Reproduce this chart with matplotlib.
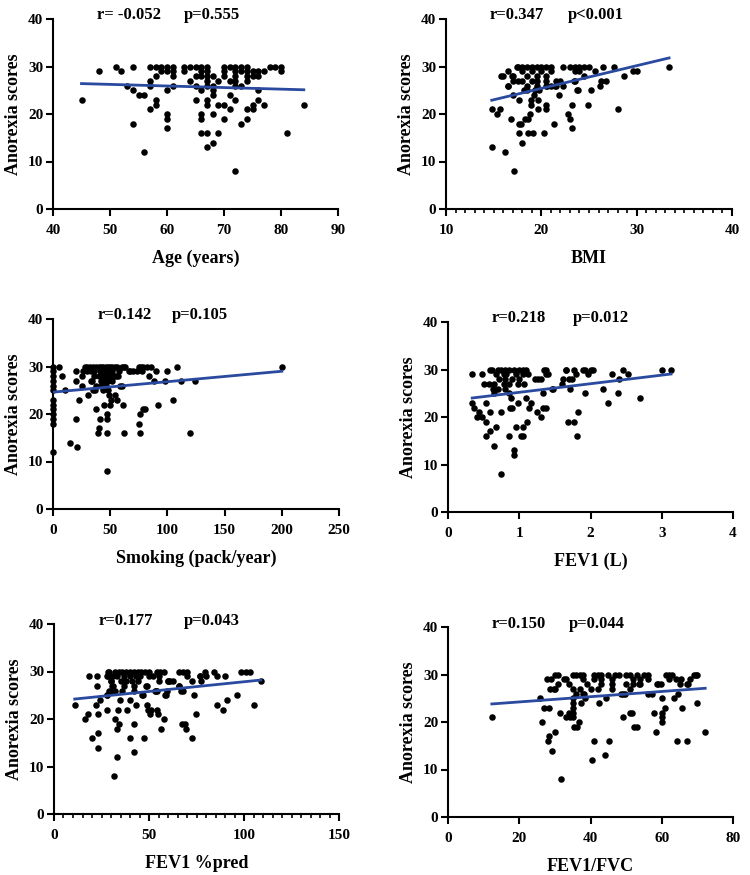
import matplotlib
matplotlib.use("Agg")
import matplotlib.pyplot as plt
from matplotlib.ticker import MultipleLocator

# ---------------- data ----------------
age_x = [45, 48, 51, 52, 53, 54, 54, 54, 55, 56, 56,
         57, 57, 57, 57, 58, 58, 58, 58, 59, 59,
         60, 60, 60, 60, 60, 60, 61, 61, 61, 61, 63, 63, 64, 64,
         65, 65, 65, 65, 66, 66, 66, 66, 66, 66, 66,
         67, 67, 67, 67, 67, 67, 67, 67, 67,
         68, 68, 68, 68, 68, 68, 69, 69, 69, 70, 70, 70, 70, 70,
         71, 71, 71, 71, 72, 72, 72, 72, 72, 72, 72,
         73, 73, 73, 73, 74, 74, 74, 74, 74, 74, 75, 75, 75, 75,
         76, 76, 76, 76, 77, 77, 78, 79, 80, 80, 81, 84]
age_y = [23, 29, 30, 29, 26, 30, 25, 18, 24, 24, 12,
         30, 27, 26, 21, 30, 28, 23, 22, 30, 29,
         30, 29, 25, 20, 19, 17, 30, 29, 28, 26, 30, 29, 30, 27,
         30, 28, 26, 23, 30, 29, 28, 25, 20, 19, 16,
         30, 29, 28, 27, 26, 23, 22, 16, 13,
         28, 26, 25, 24, 20, 14, 27, 22, 16, 30, 29, 28, 22, 19,
         30, 27, 24, 21, 30, 29, 28, 27, 26, 23, 8,
         30, 29, 26, 18, 30, 29, 28, 27, 21, 19, 29, 28, 22, 21,
         29, 28, 25, 23, 29, 22, 30, 30, 30, 29, 16, 22]

bmi_x = [14.8, 14.8, 15.4, 15.7, 15.8, 16.2, 16.5, 16.5, 16.8, 16.9, 17.0, 17.1,
         17.4, 17.7, 17.7, 17.7, 17.9, 18.0, 18.3, 18.5, 18.6, 18.6, 18.8, 18.9, 18.9,
         19.1, 19.2, 19.3, 19.6, 19.7, 19.8, 20.3, 20.5, 20.5, 20.6, 21.3, 21.4, 21.9,
         22.0, 22.3, 22.3, 22.8, 23.0, 23.2, 23.2, 23.4, 23.7, 24.9, 25.2, 25.6, 26.2,
         26.3, 26.5, 26.8, 27.6, 28.0, 28.7, 29.6, 30.0, 33.4,
         17.5, 18.0, 18.5, 19.0, 19.5, 20.0, 20.5, 21.0, 23.0, 23.5, 24.0, 24.5, 25.0,
         18.0, 19.0, 20.0, 21.0, 23.5, 24.0,
         16.0, 17.0, 18.5, 19.5, 20.5, 24.5,
         17.0, 17.5, 18.0, 19.0, 19.5, 20.5, 21.5, 23.5,
         16.5, 18.5, 19.5, 20.5, 21.0, 21.5,
         18.2, 19.3, 23.8]
bmi_y = [21, 13, 20, 21, 28, 12, 29, 26, 19, 28, 24, 8,
         30, 18, 16, 23, 18, 14, 19, 25, 16, 19, 20, 22, 23,
         16, 24, 25, 21, 23, 25, 16, 22, 21, 26, 18, 26, 24,
         27, 26, 30, 20, 19, 22, 17, 27, 25, 22, 25, 29, 26,
         27, 30, 27, 30, 21, 28, 29, 29, 30,
         30, 30, 30, 30, 30, 30, 30, 30, 30, 30, 30, 30, 30,
         29, 29, 29, 29, 29, 29,
         28, 28, 28, 28, 28, 28,
         27, 27, 27, 27, 27, 27, 27, 27,
         26, 26, 26, 26, 26, 26,
         25, 25, 25]

smk_x = [0] * 13 + [5, 8, 10.5, 15, 20, 20, 20, 21, 23, 25, 25, 26, 30, 31, 34, 37, 38,
         39, 40, 41, 45, 47, 47, 47, 47, 49, 50, 51, 54, 56, 59, 61, 62, 63, 67, 75,
         76, 76, 79, 80, 82, 86, 84, 88, 90, 92, 98, 100, 105, 108, 112, 120, 124, 200,
         28, 32, 35, 38, 40, 42, 44, 46, 48, 50, 52, 54, 56, 60, 62, 75, 77, 79,
         30, 33, 36, 41, 43, 45, 48, 52, 58, 66, 70, 73, 78,
         36, 40, 44, 47, 50, 53, 55, 57,
         33, 42, 45, 48, 52,
         38, 42, 46, 60,
         35, 44, 48]
smk_y = [30, 29, 28, 27, 26, 25, 23, 22, 21, 20, 19, 18, 12,
         30, 28, 25, 14, 29, 27, 19, 13, 23, 28, 26, 29, 30, 24, 27, 25, 21,
         16, 17, 19, 22, 20, 19, 16, 8, 24, 22, 23, 24, 23, 26, 22, 16, 30, 29, 18,
         16, 20, 21, 21, 30, 30, 28, 27, 29, 22, 27, 29, 23, 30, 27, 16, 27, 30,
         30, 30, 30, 30, 30, 30, 30, 30, 30, 30, 30, 30, 30, 30, 30, 30, 30, 30,
         29, 29, 29, 29, 29, 29, 29, 29, 29, 29, 29, 29, 29,
         28, 28, 28, 28, 28, 28, 28, 28,
         27, 27, 27, 27, 27,
         26, 26, 26, 26,
         25, 25, 25]

fev_x = [0.34, 0.34, 0.37, 0.41, 0.44, 0.48, 0.48, 0.50, 0.54, 0.54, 0.54, 0.57, 0.59,
         0.59, 0.59, 0.64, 0.64, 0.67, 0.74, 0.75, 0.85, 0.87, 0.89, 0.90, 0.92, 0.92,
         0.95, 0.98, 1.02, 1.05, 1.05, 1.09, 1.11, 1.13, 1.16, 1.25, 1.27, 1.30, 1.34,
         1.34, 1.37, 1.38, 1.40, 1.46, 1.48, 1.60, 1.65, 1.68, 1.71, 1.74, 1.77, 1.77,
         1.81, 1.83, 1.80, 1.90, 1.92, 1.97, 2.04, 2.18, 2.25, 2.30, 2.39, 2.40, 2.46,
         2.52, 2.69, 3.00, 3.13,
         0.62, 0.70, 0.75, 0.80, 0.85, 0.92, 1.00, 1.05, 1.10, 1.35, 1.65, 1.92, 2.00,
         0.68, 0.78, 0.82, 0.95, 1.05, 1.12, 1.38,
         0.72, 0.80, 0.90, 1.00, 1.22, 1.30, 1.62, 1.70,
         0.65, 0.78, 0.85, 0.98, 1.07,
         0.63, 0.70, 0.80,
         0.85]
fev_y = [29, 23, 22, 20, 21, 20, 29, 27, 23, 19, 16, 27, 30,
         21, 17, 14, 25, 18, 21, 8, 16, 22, 24, 22, 13, 12,
         18, 23, 16, 16, 18, 24, 19, 22, 23, 21, 28, 20, 25,
         22, 22, 30, 29, 26, 26, 27, 30, 19, 26, 28, 30, 19,
         16, 21, 29, 30, 25, 29, 30, 26, 23, 29, 25, 28, 30,
         29, 24, 30, 30,
         30, 30, 30, 30, 30, 30, 30, 30, 30, 30, 30, 30, 30,
         29, 29, 29, 29, 29, 29, 29,
         28, 28, 28, 28, 28, 28, 28, 28,
         27, 27, 27, 27, 27,
         26, 26, 26,
         25]

pred_x = [10.9, 16.5, 17.9, 18.4, 20.2, 21.9, 22.6, 22.8, 23.0, 23.3, 23.3, 24.4,
          27.9, 27.9, 28.4, 28.4, 29.0, 30.0, 30.7, 31.9, 31.6, 33.2, 33.7, 34.0, 33.3,
          34.9, 38.6, 39.8, 40.2, 42.1, 42.1, 43.0, 46.3, 47.2, 48.6, 49.1, 49.5, 50.4,
          51.2, 53.0, 53.9, 54.2, 54.7, 56.1, 57.9, 58.6, 59.6, 60.0, 61.2, 62.6, 65.8,
          67.0, 67.5, 69.1, 69.6, 72.6, 72.6, 73.9, 74.9, 76.7, 77.5, 79.3, 80.2, 84.2,
          86.0, 86.0, 88.9, 90.0, 91.2, 96.5, 98.6, 101.2, 103.0, 105.0, 108.8,
          29, 32, 34, 36, 38, 40, 42, 44, 46, 48, 50, 54, 56, 58, 66, 68, 70,
          28, 31, 33, 37, 40, 43, 45, 50, 52, 55, 70, 77,
          30, 35, 38, 41, 44, 55, 60,
          31, 37, 42, 49, 66,
          30, 32, 36, 42, 54, 68,
          28, 47, 59]
pred_y = [23, 20, 21, 29, 16, 23, 27, 29, 21, 17, 14, 24,
          22, 25, 30, 29, 26, 28, 27, 20, 8, 18, 22, 19, 12,
          24, 22, 16, 24, 19, 13, 23, 25, 16, 27, 23, 22, 21,
          22, 26, 26, 22, 21, 18, 20, 25, 26, 28, 28, 28, 27,
          26, 19, 19, 18, 16, 28, 25, 21, 29, 28, 30, 29, 30,
          29, 23, 22, 29, 24, 25, 30, 30, 30, 23, 28,
          30, 30, 30, 30, 30, 30, 30, 30, 30, 30, 30, 30, 30, 30, 30, 30, 30,
          29, 29, 29, 29, 29, 29, 29, 29, 29, 29, 29, 29,
          28, 28, 28, 28, 28, 28, 28,
          27, 27, 27, 27, 27,
          26, 26, 26, 26, 26, 26,
          25, 25, 25]

fvc_x = [12.3, 25.9, 26.4, 27.0, 27.8, 28.3, 28.1, 28.4, 29.0, 29.2, 28.7, 29.8, 30.1,
         30.1, 30.9, 31.5, 31.7, 32.5, 33.1, 33.9, 34.3, 35.0, 35.0, 35.0, 35.0, 35.0,
         35.5, 36.2, 36.7, 37.4, 38.1, 38.5, 40.4, 40.9, 42.3, 44.0, 44.3, 45.1, 48.6,
         49.0, 49.6, 51.2, 51.6, 52.1, 53.0, 53.7, 56.1, 57.3, 57.7, 58.4, 58.7, 59.8,
         60.1, 60.1, 60.1, 60.1, 60.8, 61.2, 63.3, 64.3, 64.7, 65.7, 65.5, 67.3, 67.1,
         69.9, 69.6, 72.2,
         31, 35, 36, 37, 38, 41, 42, 43, 45, 47, 48, 50, 51, 53, 55, 56, 62, 63, 69, 70,
         33, 38, 41, 43, 46, 52, 54, 56, 62, 64, 68,
         34, 39, 43, 46, 50, 52, 54, 59, 65, 67,
         30, 35, 37, 40, 42, 46, 51,
         36, 38, 49]
fvc_y = [21, 25, 20, 23, 29, 23, 16, 17, 29, 14, 27, 27, 18,
         30, 28, 22, 8, 29, 21, 22, 21, 24, 23, 22, 21, 25,
         19, 19, 20, 24, 26, 25, 12, 16, 24, 13, 25, 16, 26,
         21, 26, 22, 22, 19, 19, 28, 26, 26, 22, 18, 28, 28,
         25, 21, 20, 22, 23, 30, 25, 16, 26, 23, 29, 28, 16,
         24, 30, 18,
         30, 30, 30, 30, 30, 30, 30, 30, 30, 30, 30, 30, 30, 30, 30, 30, 30, 30, 30, 30,
         29, 29, 29, 29, 29, 29, 29, 29, 29, 29, 29,
         28, 28, 28, 28, 28, 28, 28, 28, 28, 28,
         27, 27, 27, 27, 27, 27, 27,
         26, 26, 26]

# regression lines (end points)
fit_age = ([45, 84], [26.4, 25.1])
fit_bmi = ([14.8, 33.4], [22.9, 31.8])
fit_smk = ([0, 200], [24.6, 29.0])
fit_fev = ([0.34, 3.13], [24.0, 29.05])
fit_pred = ([10.9, 108.8], [24.2, 28.2])
fit_fvc = ([12.3, 72.2], [23.8, 27.1])

r_labels = ["r= -0.052", "r=0.347", "r=0.142", "r=0.218", "r=0.177", "r=0.150"]
p_labels = ["p=0.555", "p<0.001", "p=0.105", "p=0.012", "p=0.043", "p=0.044"]
x_labels = ["Age (years)", "BMI", "Smoking (pack/year)", "FEV1 (L)", "FEV1 %pred", "FEV1/FVC"]
y_label = "Anorexia scores"
x_limits = [(40, 90), (10, 40), (0, 250), (0, 4), (0, 150), (0, 80)]
x_major = [10, 10, 50, 1, 50, 20]
x_minor = [None, 1, None, None, 5, None]

# ---------------- layout ----------------
W, H = 750, 875
plt.rcParams['font.family'] = ['Liberation Serif', 'DejaVu Serif']
plt.rcParams['font.weight'] = 'bold'
fig = plt.figure(figsize=(W / 100, H / 100), dpi=100)

# axes boxes in pixels: left, right, top, bottom
boxes = [(53, 338, 19, 209), (446, 732, 19, 209),
         (53, 339, 319, 509), (448, 733, 322, 512),
         (54, 339, 624, 814), (448, 733, 627, 817)]
# annotation positions (pixel x of r, pixel x of p, pixel y center)
ann = [(97, 184, 15), (490, 568, 15), (98, 172, 315),
       (492, 573, 318), (99, 184, 621), (492, 569, 624)]

data = [(age_x, age_y, fit_age), (bmi_x, bmi_y, fit_bmi), (smk_x, smk_y, fit_smk),
        (fev_x, fev_y, fit_fev), (pred_x, pred_y, fit_pred), (fvc_x, fvc_y, fit_fvc)]

line_color = '#2a4aa0'

for i, (l, r, t, b) in enumerate(boxes):
    ax = fig.add_axes([l / W, 1 - b / H, (r - l) / W, (b - t) / H])
    xs, ys, fit = data[i]
    ax.scatter(xs, ys, s=22, color='black', zorder=3, clip_on=False, linewidths=0)
    ax.plot(fit[0], fit[1], color=line_color, lw=2, zorder=4)
    ax.set_xlim(*x_limits[i])
    ax.set_ylim(0, 40)
    ax.xaxis.set_major_locator(MultipleLocator(x_major[i]))
    if x_minor[i]:
        ax.xaxis.set_minor_locator(MultipleLocator(x_minor[i]))
    ax.yaxis.set_major_locator(MultipleLocator(10))
    for s in ['top', 'right']:
        ax.spines[s].set_visible(False)
    for s in ['left', 'bottom']:
        ax.spines[s].set_linewidth(1.5)
    ax.tick_params(axis='both', which='major', direction='out', length=5, width=1.5,
                   labelsize=11)
    ax.tick_params(axis='x', which='major', pad=6)
    ax.tick_params(axis='y', which='major', pad=2)
    ax.tick_params(axis='x', which='minor', direction='out', length=3, width=1.2)
    for lab in ax.get_xticklabels() + ax.get_yticklabels():
        lab.set_fontweight('bold')
    ax.set_xlabel(x_labels[i], fontsize=13, fontweight='bold', labelpad=9)
    ax.set_ylabel(y_label, fontsize=13, fontweight='bold', labelpad=4)
    rx, px, ty = ann[i]
    fig.text(rx / W, 1 - ty / H, r_labels[i], fontsize=12, fontweight='bold',
             ha='left', va='center')
    fig.text(px / W, 1 - ty / H, p_labels[i], fontsize=12, fontweight='bold',
             ha='left', va='center')

fig.savefig('out.png', dpi=100)
